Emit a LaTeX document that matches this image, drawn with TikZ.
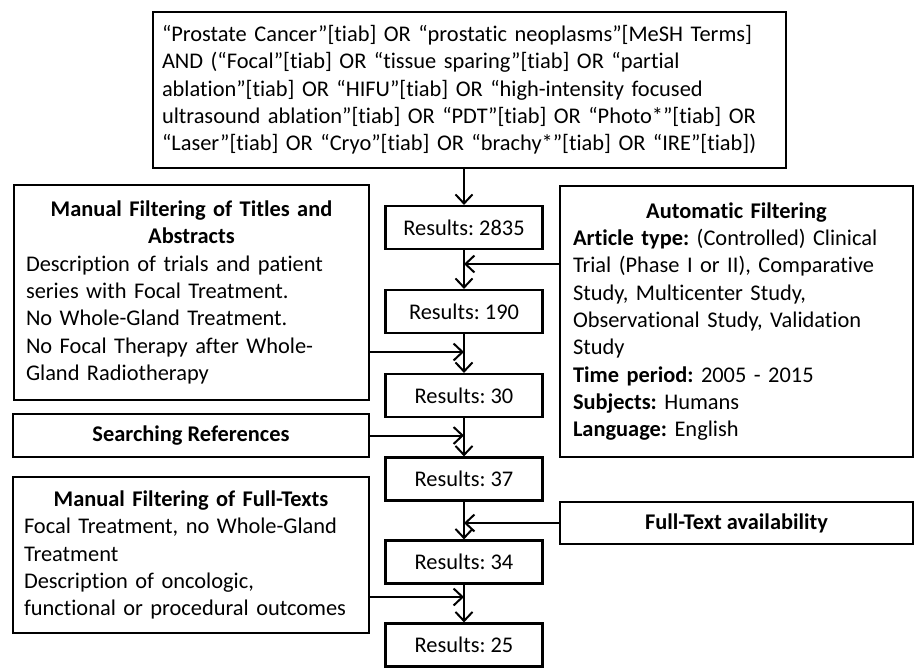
\documentclass[tikz,border=0pt]{standalone}
\usepackage{fontspec}
\setmainfont{Carlito}[Ligatures={NoCommon}]
\usetikzlibrary{arrows.meta}
\setlength\parindent{0pt}
\frenchspacing
\begin{document}
\begin{tikzpicture}[x=1pt,y=-1pt,
  box/.style={draw, line width=2.2pt, rectangle, inner sep=0pt,
    font=\fontsize{22.4}{27.3}\selectfont\frenchspacing},
  res/.style={box, minimum width=157pt, minimum height=43pt},
  flow/.style={line width=2pt, -{Straight Barb[length=9pt,width=17pt,line width=2pt]}}]
\useasboundingbox (0,0) rectangle (915,667);

% query box
\node[box, minimum width=633pt, minimum height=156pt, text width=615pt, inner xsep=9pt] (q) at (469.5,90)
 {\raggedright “Prostate Cancer”[tiab] OR “prostatic neoplasms”[MeSH Terms]\\
  AND (“Focal”[tiab] OR “tissue sparing”[tiab] OR “partial\\
  ablation”[tiab] OR “HIFU”[tiab] OR “high-intensity focused\\
  ultrasound ablation”[tiab] OR “PDT”[tiab] OR “Photo*”[tiab] OR\\
  “Laser”[tiab] OR “Cryo”[tiab] OR “brachy*”[tiab] OR “IRE”[tiab])\par};

% result boxes
\node[res] (r1) at (464,227.5) {Results: 2835};
\node[res] (r2) at (464,311.5) {Results: 190};
\node[res] (r3) at (464,395.5) {Results: 30};
\node[res] (r4) at (464,479)   {Results: 37};
\node[res] (r5) at (464,562)   {Results: 34};
\node[res] (r6) at (464,645)   {Results: 25};

% left boxes
\node[box, minimum width=355pt, minimum height=215pt, text width=331pt, inner xsep=12pt] (mt) at (191.5,292.5)
 {{\centering\bfseries Manual Filtering of Titles and\\ Abstracts\par}
  \raggedright\hyphenpenalty=10000
  Description of trials and patient\\
  series with Focal Treatment.\\
  No Whole-Gland Treatment.\\
  No Focal Therapy after Whole-\\
  Gland Radiotherapy\par};

\node[box, minimum width=356pt, minimum height=43pt] (sr) at (191,435.5)
 {\bfseries Searching References};

\node[box, minimum width=356pt, minimum height=156pt, text width=334pt, inner xsep=11pt] (mf) at (191,555)
 {{\centering\bfseries Manual Filtering of Full-Texts\par}
  \raggedright\hyphenpenalty=10000
  Focal Treatment, no Whole-Gland\\
  Treatment\\
  Description of oncologic,\\
  functional or procedural outcomes\par};

% right boxes
\node[box, minimum width=353pt, minimum height=271pt, text width=327pt, inner xsep=13pt] (af) at (736.5,321.5)
 {{\centering\bfseries Automatic Filtering\par}
  \raggedright\hyphenpenalty=10000
  \textbf{Article type:} (Controlled) Clinical\\
  Trial (Phase I or II), Comparative\\
  Study, Multicenter Study,\\
  Observational Study, Validation\\
  Study\\
  \textbf{Time period:} 2005 - 2015\\
  \textbf{Subjects:} Humans\\
  \textbf{Language:} English\par};

\node[box, minimum width=353pt, minimum height=42pt] (ft) at (736.5,523)
 {\bfseries Full-Text availability};

% vertical flow
\draw[flow] (q.south -| r1.north) -- (r1.north);
\draw[flow] (r1.south) -- (r2.north);
\draw[flow] (r2.south) -- (r3.north);
\draw[flow] (r3.south) -- (r4.north);
\draw[flow] (r4.south) -- (r5.north);
\draw[flow] (r5.south) -- (r6.north);

% side inputs
\coordinate (j1) at (464,264);
\coordinate (j2) at (464,352);
\coordinate (j3) at (464,597);
\draw[flow] (j1 -| af.west) -- (j1);
\draw[flow] (j2 -| mt.east) -- (j2);
\draw[flow] (sr.east) -- (sr.east -| r3.south);
\draw[flow] (ft.west) -- (ft.west -| r4.south);
\draw[flow] (j3 -| mf.east) -- (j3);
\end{tikzpicture}
\end{document}
